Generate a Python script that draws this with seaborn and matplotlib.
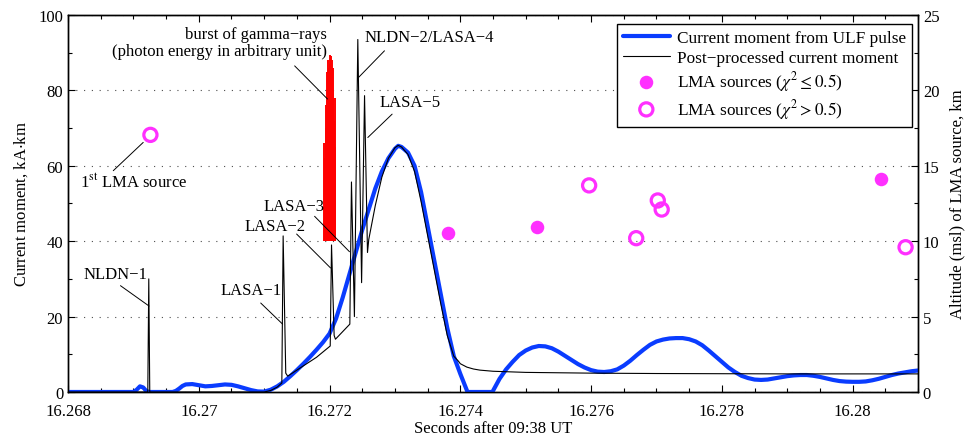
import pandas as pd
import seaborn as sns
import matplotlib.pyplot as plt
from matplotlib.ticker import MultipleLocator

sns.set_style('ticks')
plt.rcParams['font.family'] = ['Liberation Serif', 'DejaVu Serif']
plt.rcParams['mathtext.fontset'] = 'stix'
plt.rcParams.update({'axes.edgecolor': 'black', 'xtick.color': 'black',
                     'ytick.color': 'black', 'text.color': 'black',
                     'axes.labelcolor': 'black'})

# current moment from ULF pulse (kA*km)
ulf_t = [16.2680, 16.2690, 16.26905, 16.2691, 16.26915, 16.2692, 16.26925,
         16.2696, 16.26965, 16.2697, 16.26975, 16.2698, 16.2699, 16.2700,
         16.2701, 16.2702, 16.2703, 16.2704, 16.2705, 16.2706, 16.2707,
         16.2708, 16.2709, 16.2710, 16.2711, 16.2712, 16.2713, 16.2714,
         16.2715, 16.2716, 16.2717, 16.2718, 16.2719, 16.2720, 16.2721,
         16.2722, 16.2723, 16.2724, 16.2725, 16.2726, 16.2727, 16.2728,
         16.2729, 16.2730, 16.27305, 16.2731, 16.2732, 16.2733, 16.2734,
         16.2735, 16.2736, 16.2737, 16.2738, 16.2739, 16.2740, 16.27411,
         16.27449, 16.2746, 16.2747, 16.2748, 16.2749, 16.2750, 16.2751,
         16.2752, 16.2753, 16.2754, 16.2755, 16.2756, 16.2757, 16.2758,
         16.2759, 16.2760, 16.2761, 16.2762, 16.2763, 16.2764, 16.2765,
         16.2766, 16.2767, 16.2768, 16.2769, 16.2770, 16.2771, 16.2772,
         16.2773, 16.2774, 16.2775, 16.2776, 16.2777, 16.2778, 16.2779,
         16.2780, 16.2781, 16.2782, 16.2783, 16.2784, 16.2785, 16.2786,
         16.2787, 16.2788, 16.2789, 16.2790, 16.2791, 16.2792, 16.2793,
         16.2794, 16.2795, 16.2796, 16.2797, 16.2798, 16.2799, 16.2800,
         16.2801, 16.2802, 16.2803, 16.2804, 16.2805, 16.2806, 16.2807,
         16.2808, 16.2809, 16.2810]
ulf_moment = [0, 0, 0.6, 1.5, 1.2, 0.2, 0,
              0, 0.3, 0.9, 1.6, 2.0, 2.1, 1.8,
              1.5, 1.6, 1.8, 2.0, 1.9, 1.5, 1.0,
              0.5, 0.15, 0.1, 0.6, 1.5, 2.7, 4.2,
              5.8, 7.5, 9.3, 11.2, 13.2, 15.5, 19.5,
              25, 31, 37, 43, 48.5, 54, 58.5,
              62, 64.5, 65.3, 65, 63.5, 60, 53,
              44, 35, 26, 17, 9.5, 4.8, 0,
              0, 3.5, 6.0, 8.0, 9.8, 11.0, 11.8,
              12.2, 12.1, 11.6, 10.7, 9.6, 8.5, 7.4,
              6.5, 5.8, 5.4, 5.3, 5.5, 6.0, 7.0,
              8.3, 9.8, 11.2, 12.5, 13.4, 13.9, 14.2,
              14.3, 14.3, 14.0, 13.4, 12.4, 11.0, 9.5,
              8.0, 6.5, 5.3, 4.3, 3.7, 3.3, 3.2,
              3.3, 3.6, 3.9, 4.2, 4.4, 4.5, 4.5,
              4.3, 4.0, 3.6, 3.2, 2.9, 2.75, 2.7,
              2.7, 2.8, 3.1, 3.5, 4.0, 4.5, 4.9,
              5.2, 5.5, 5.7]

# post-processed current moment (kA*km)
post_t = [16.2680, 16.26922, 16.269235, 16.26925, 16.2710, 16.2711, 16.2712,
          16.27127, 16.27129, 16.27133, 16.27136, 16.2715, 16.2718, 16.27201,
          16.27203, 16.27207, 16.27209, 16.27231, 16.272335, 16.27238,
          16.272432, 16.27249, 16.272535, 16.27258, 16.2726, 16.2727, 16.2728,
          16.2729, 16.2730, 16.27305, 16.2731, 16.2732, 16.2733, 16.2734,
          16.2735, 16.2736, 16.2737, 16.2738, 16.2739, 16.27397, 16.2740,
          16.2741, 16.2742, 16.2743, 16.2745, 16.2750, 16.2760, 16.2770,
          16.2790, 16.2810]
post_moment = [0, 0, 30, 0, 0, 0.4, 1.3,
               2.4, 41.4, 5, 4.2, 5.8, 9.2, 12.2,
               39, 15, 14, 18, 55.7, 20,
               93.5, 29, 78.6, 37, 40.5, 49.5, 57,
               62, 64.8, 65.4, 65, 63, 58.5, 50.5,
               41.5, 32.5, 23.5, 15, 9.5, 8.2, 7.5,
               6.6, 6.1, 5.8, 5.5, 5.2, 5.0, 4.9,
               4.8, 4.8]

# gamma-ray burst (arbitrary unit, drawn from a base of 40)
gamma_base = 40
gamma_t = [16.27192, 16.27193, 16.27194, 16.27195, 16.27196, 16.27197,
           16.27198, 16.27199, 16.27200, 16.27201, 16.27202, 16.27203,
           16.27204, 16.27205, 16.27206, 16.27207, 16.27208, 16.27209]
gamma_top = [66, 62, 70, 76, 85, 79, 88, 86, 89.5, 87, 89, 84, 88, 80, 86,
             72, 78, 65]

# LMA sources, altitude km
lma_good_t = [16.27381, 16.27518, 16.28043]
lma_good_alt = [10.55, 10.97, 14.15]
lma_bad_t = [16.26926, 16.27597, 16.27669, 16.27702, 16.27708, 16.28081]
lma_bad_alt = [17.05, 13.7, 10.2, 12.7, 12.1, 9.6]

x_ticks = [16.268, 16.270, 16.272, 16.274, 16.276, 16.278, 16.280]
x_ticklabels = ['16.268', '16.27', '16.272', '16.274', '16.276', '16.278', '16.28']

BLUE = '#0a3cff'
MAG = '#ff30ff'

fig = plt.figure(figsize=(9.65, 4.39), dpi=100)
ax = fig.add_axes([0.0705, 0.1048, 0.8808, 0.8588])
ax2 = ax.twinx()

ulf = pd.DataFrame({'t': ulf_t, 'moment': ulf_moment})
post = pd.DataFrame({'t': post_t, 'moment': post_moment})
sns.lineplot(data=ulf, x='t', y='moment', ax=ax, color=BLUE, lw=3.0,
             estimator=None, sort=False, legend=False, zorder=3)
sns.lineplot(data=post, x='t', y='moment', ax=ax, color='black', lw=0.8,
             estimator=None, sort=False, legend=False, zorder=4)
ax.vlines(gamma_t, gamma_base, gamma_top, colors='red', lw=1.4, zorder=5)

sns.scatterplot(x=lma_good_t, y=lma_good_alt, ax=ax2, marker='o', s=95,
                color=MAG, linewidth=0, zorder=5)
sns.scatterplot(x=lma_bad_t, y=lma_bad_alt, ax=ax2, marker='o', s=90,
                color=MAG, zorder=5)
good_pts, bad_pts = ax2.collections[0], ax2.collections[1]
bad_pts.set_facecolor('none')
bad_pts.set_edgecolor(MAG)
bad_pts.set_linewidth(2.3)

# axes
ax.set_xlim(16.268, 16.281)
ax.set_ylim(0, 100)
ax2.set_ylim(0, 25)
ax.set_xticks(x_ticks)
ax.set_xticklabels(x_ticklabels)
ax.xaxis.set_minor_locator(MultipleLocator(0.0005))
ax.set_yticks([0, 20, 40, 60, 80, 100])
ax.yaxis.set_minor_locator(MultipleLocator(10))
ax2.set_yticks([0, 5, 10, 15, 20, 25])
ax2.yaxis.set_minor_locator(MultipleLocator(2.5))
ax.tick_params(which='both', direction='in', top=True, right=False,
               labelsize=12, width=0.8)
ax.tick_params(which='major', length=5)
ax.tick_params(which='minor', length=3)
ax.tick_params(axis='x', pad=8)
ax2.tick_params(axis='y', which='both', direction='in', labelsize=12, width=0.8)
ax2.tick_params(axis='y', which='major', length=5)
ax2.tick_params(axis='y', which='minor', length=3)
ax.grid(axis='y', linestyle=(0, (1, 6)), color='0.3', lw=0.8)
for a in (ax, ax2):
    for s in a.spines.values():
        s.set_linewidth(1.0)
        s.set_color('black')

ax.set_xlabel('Seconds after 09:38 UT', fontsize=12, labelpad=1)
ax.set_ylabel('Current moment, kA$\\cdot$km', fontsize=12, labelpad=6)
ax2.set_ylabel('Altitude (msl) of LMA source, km', fontsize=12, labelpad=7)

# annotations
line_kw = dict(arrowstyle='-', lw=0.7, color='black', shrinkA=0, shrinkB=0)
notes = [
    ('NLDN\u22121', (16.26922, 31.3), 'right', (16.268802, 28.2), (16.269239, 22.8)),
    ('LASA\u22121', (16.271263, 27.1), 'right', (16.270947, 23.6), (16.271282, 18.0)),
    ('LASA\u22122', (16.271634, 44.0), 'right', (16.271496, 41.9), (16.272015, 32.9)),
    ('LASA\u22123', (16.271924, 49.3), 'right', (16.271771, 46.6), (16.272305, 37.2)),
    ('NLDN\u22122/LASA\u22124', (16.272534, 94.1), 'left', (16.272840, 90.5), (16.272447, 83.5)),
    ('LASA\u22125', (16.272757, 76.8), 'left', (16.272957, 73.7), (16.272585, 67.5)),
    ('burst of gamma\u2212rays\n(photon energy in arbitrary unit)', (16.271954, 92.7),
     'right', (16.271466, 86.5), (16.271969, 77.7)),
    ('1$^{\\rm st}$ LMA source', (16.268183, 55.7), 'left', (16.268692, 58.7), (16.269150, 66.2)),
]
for text, pos, ha, p0, p1 in notes:
    ax.text(pos[0], pos[1], text, ha=ha, va='center', fontsize=12,
            multialignment='right', linespacing=1.1, zorder=6)
    ax.annotate('', xy=p1, xytext=p0, arrowprops=line_kw, zorder=6)

handles = [ax.lines[0], ax.lines[1], good_pts, bad_pts]
labels = ['Current moment from ULF pulse', 'Post\u2212processed current moment',
          'LMA sources ($\\chi^2 \\leq 0.5$)', 'LMA sources ($\\chi^2 > 0.5$)']
leg = ax2.legend(handles, labels, loc='upper right', bbox_to_anchor=(0.993, 0.976),
                 borderaxespad=0, fontsize=12.4, frameon=True, fancybox=False,
                 framealpha=1, edgecolor='black', handlelength=2.75,
                 handletextpad=0.4, borderpad=0.35, labelspacing=0.2,
                 scatterpoints=1)
leg.get_frame().set_linewidth(1.0)
leg.set_zorder(10)

plt.savefig('out.png', dpi=100)
